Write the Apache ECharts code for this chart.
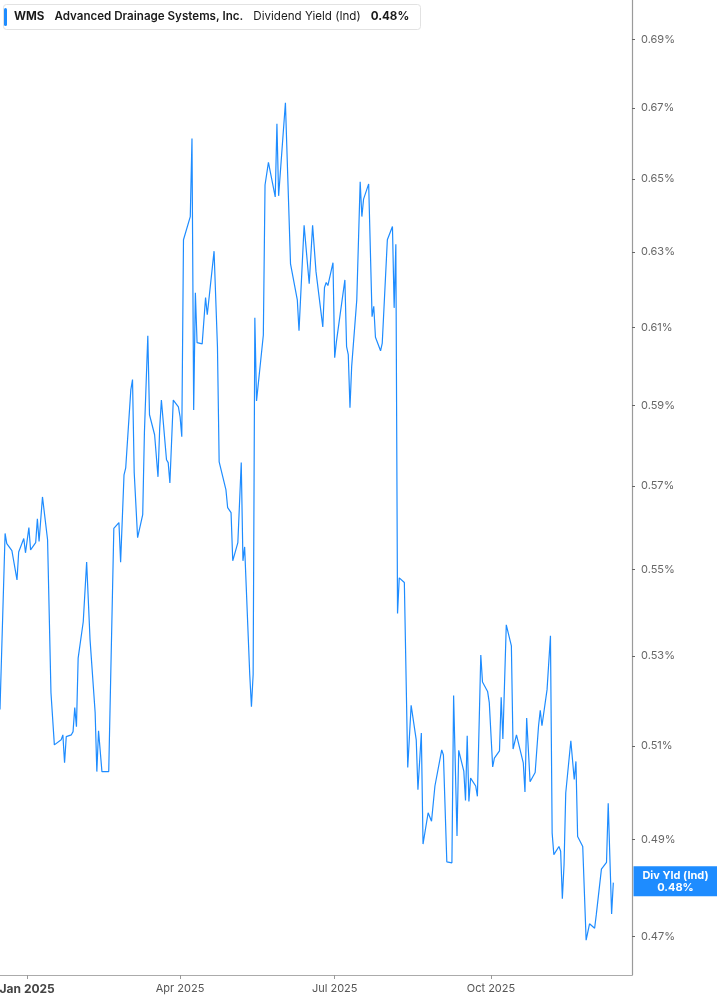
<!DOCTYPE html>
<html>
<head>
<meta charset="utf-8">
<title>WMS Dividend Yield</title>
<style>
  html, body { margin: 0; padding: 0; background: #fff; }
  #chart { width: 717px; height: 1005px; }
</style>
</head>
<body>
<div id="chart"></div>
<script src="https://cdn.jsdelivr.net/npm/echarts@6.0.0/dist/echarts.min.js"></script>
<script>
// trading dates
var dates = [
  '2024-12-16','2024-12-19','2024-12-20','2024-12-23','2024-12-26','2024-12-27','2024-12-30','2024-12-31','2025-01-02','2025-01-03',
  '2025-01-06','2025-01-07','2025-01-08','2025-01-10','2025-01-13','2025-01-15','2025-01-17','2025-01-21','2025-01-22','2025-01-23',
  '2025-01-24','2025-01-27','2025-01-28','2025-01-29','2025-01-30','2025-01-31','2025-02-03','2025-02-05','2025-02-07','2025-02-10',
  '2025-02-11','2025-02-12','2025-02-14','2025-02-18','2025-02-21','2025-02-24','2025-02-25','2025-02-27','2025-02-28','2025-03-03',
  '2025-03-04','2025-03-05','2025-03-07','2025-03-10','2025-03-11','2025-03-12','2025-03-13','2025-03-14','2025-03-17','2025-03-18',
  '2025-03-19','2025-03-20','2025-03-21','2025-03-24','2025-03-25','2025-03-26','2025-03-28','2025-03-31','2025-04-01','2025-04-02',
  '2025-04-03','2025-04-07','2025-04-08','2025-04-09','2025-04-10','2025-04-11','2025-04-14','2025-04-16','2025-04-17','2025-04-21',
  '2025-04-23','2025-04-24','2025-04-28','2025-04-29','2025-05-01','2025-05-02','2025-05-05','2025-05-07','2025-05-08','2025-05-09',
  '2025-05-12','2025-05-13','2025-05-14','2025-05-15','2025-05-16','2025-05-20','2025-05-21','2025-05-22','2025-05-23','2025-05-27',
  '2025-05-28','2025-05-29','2025-06-02','2025-06-05','2025-06-06','2025-06-09','2025-06-10','2025-06-13','2025-06-16','2025-06-18',
  '2025-06-20','2025-06-24','2025-06-25','2025-06-26','2025-06-27','2025-06-30','2025-07-01','2025-07-02','2025-07-03','2025-07-07',
  '2025-07-08','2025-07-09','2025-07-10','2025-07-11','2025-07-14','2025-07-16','2025-07-17','2025-07-18','2025-07-21','2025-07-23',
  '2025-07-24','2025-07-25','2025-07-28','2025-07-29','2025-08-01','2025-08-04','2025-08-05','2025-08-06','2025-08-07','2025-08-08',
  '2025-08-11','2025-08-13','2025-08-15','2025-08-18','2025-08-19','2025-08-21','2025-08-22','2025-08-25','2025-08-26','2025-08-27',
  '2025-08-29','2025-09-02','2025-09-03','2025-09-05','2025-09-08','2025-09-09','2025-09-11','2025-09-12','2025-09-15','2025-09-16',
  '2025-09-17','2025-09-18','2025-09-19','2025-09-22','2025-09-23','2025-09-25','2025-09-26','2025-09-29','2025-09-30','2025-10-02',
  '2025-10-03','2025-10-06','2025-10-07','2025-10-08','2025-10-10','2025-10-13','2025-10-14','2025-10-16','2025-10-20','2025-10-21',
  '2025-10-22','2025-10-24','2025-10-27','2025-10-29','2025-10-30','2025-10-31','2025-11-03','2025-11-05','2025-11-06','2025-11-07',
  '2025-11-10','2025-11-11','2025-11-12','2025-11-13','2025-11-14','2025-11-17','2025-11-19','2025-11-20','2025-11-21','2025-11-24',
  '2025-11-26','2025-11-28','2025-12-01','2025-12-02','2025-12-03','2025-12-05','2025-12-08','2025-12-09','2025-12-11','2025-12-12'
];

// dividend yield (Ind), in percent
var divYield = [
  0.5180,0.5585,0.5561,0.5544,0.5475,0.5541,0.5573,0.5539,0.5599,0.5546,
  0.5563,0.5620,0.5566,0.5673,0.5570,0.5217,0.5102,0.5113,0.5124,0.5063,
  0.5120,0.5124,0.5131,0.5184,0.5142,0.5295,0.5378,0.5517,0.5337,0.5173,
  0.5044,0.5133,0.5044,0.5044,0.5597,0.5611,0.5517,0.5727,0.5744,0.5939,
  0.5965,0.5732,0.5575,0.5630,0.5831,0.5834,0.6078,0.5876,0.5826,0.5826,
  0.5722,0.5843,0.5913,0.5764,0.5757,0.5707,0.5913,0.5896,0.5871,0.5821,
  0.6333,0.6396,0.6613,0.5888,0.6191,0.6060,0.6057,0.6178,0.6133,0.6302,
  0.6049,0.5759,0.5690,0.5647,0.5635,0.5520,0.5563,0.5757,0.5520,0.5553,
  0.5258,0.5186,0.5258,0.6125,0.5911,0.6080,0.6483,0.6486,0.6546,0.6450,
  0.6655,0.6453,0.6715,0.6268,0.6268,0.6172,0.6091,0.6372,0.6215,0.6372,
  0.6247,0.6101,0.6205,0.6218,0.6210,0.6271,0.6021,0.6062,0.6063,0.6225,
  0.6050,0.6029,0.5894,0.5999,0.6172,0.6492,0.6396,0.6444,0.6486,0.6128,
  0.6155,0.6074,0.6039,0.6059,0.6333,0.6369,0.6151,0.6321,0.5397,0.5480,
  0.5469,0.5053,0.5189,0.5113,0.5005,0.5128,0.4890,0.4956,0.4956,0.4938,
  0.5013,0.5091,0.5080,0.4853,0.4851,0.5211,0.4907,0.5090,0.5045,0.4982,
  0.5122,0.4980,0.5030,0.5013,0.4991,0.5302,0.5241,0.5220,0.5195,0.5054,
  0.5073,0.5089,0.5207,0.5115,0.5371,0.5323,0.5093,0.5124,0.5063,0.5000,
  0.5161,0.5022,0.5042,0.5144,0.5178,0.5144,0.5224,0.5346,0.4913,0.4868,
  0.4885,0.4875,0.4777,0.4847,0.4998,0.5111,0.5027,0.5066,0.4906,0.4885,
  0.4693,0.4726,0.4717,0.4745,0.4743,0.4838,0.4852,0.4976,0.4746,0.4810
];

var yTicks = [0.47, 0.49, 0.51, 0.53, 0.55, 0.57, 0.59, 0.61, 0.63, 0.65, 0.67, 0.69];
var xTicks = ['2025-01-01', '2025-04-01', '2025-07-01', '2025-10-01'];
var monthNames = ['Jan','Feb','Mar','Apr','May','Jun','Jul','Aug','Sep','Oct','Nov','Dec'];

var ticker = 'WMS';
var company = 'Advanced Drainage Systems, Inc.';
var metric = 'Dividend Yield (Ind)';

function toTime(s) {
    var p = s.split('-');
    return new Date(+p[0], +p[1] - 1, +p[2]).getTime();
}

// the yield axis is logarithmic: plot ln(value) on a value axis
var lineData = dates.map(function (d, i) {
    return [toTime(d), Math.log(divYield[i])];
});
var yTickLogs = yTicks.map(function (v) { return Math.log(v); });
var xTickTimes = xTicks.map(toTime);
var last = divYield[divYield.length - 1];
var font = 'Inter, "Noto Sans", sans-serif';
var blue = '#1e8cff';
var hdr = 11.6;

var myChart = echarts.init(document.getElementById('chart'));
myChart.setOption({
    animation: false,
    backgroundColor: '#fff',
    title: {
        left: 3,
        top: 4,
        padding: [4, 12, 4, 1],
        backgroundColor: '#fff',
        borderColor: '#e2e2e2',
        borderWidth: 1,
        borderRadius: 3,
        text: '{bar|}{t|' + ticker + '}{n|' + company + '}{d|' + metric + '}{v|' + last.toFixed(2) + '%}',
        textStyle: {
            fontFamily: font,
            fontSize: hdr,
            color: '#1a1a1a',
            rich: {
                bar: {width: 3, height: 18, backgroundColor: blue, borderRadius: 1.5},
                t: {fontFamily: font, fontSize: hdr, fontWeight: 'bold', color: '#1a1a1a', padding: [0, 0, 0, 7]},
                n: {fontFamily: font, fontSize: hdr, fontWeight: 600, color: '#1a1a1a', padding: [0, 0, 0, 10]},
                d: {fontFamily: font, fontSize: hdr, fontWeight: 'normal', color: '#1a1a1a', padding: [0, 0, 0, 10]},
                v: {fontFamily: font, fontSize: hdr, fontWeight: 'bold', color: '#1a1a1a', padding: [0, 0, 0, 10]}
            }
        }
    },
    grid: {left: 0, right: 85, top: 0, bottom: 30, containLabel: false, outerBoundsMode: 'none'},
    xAxis: {
        type: 'value',
        min: toTime('2024-12-16'),
        max: toTime('2025-12-23'),
        splitLine: {show: false},
        axisLine: {lineStyle: {color: '#ababab', width: 1.2}},
        axisTick: {show: true, customValues: xTickTimes, length: 4, lineStyle: {color: '#999'}},
        axisLabel: {
            customValues: xTickTimes,
            margin: 8,
            color: '#555',
            fontFamily: font,
            fontSize: 11,
            formatter: function (val) {
                var d = new Date(val);
                var s = monthNames[d.getMonth()] + ' ' + d.getFullYear();
                return d.getMonth() === 0 ? '{b|' + s + '}' : s;
            },
            rich: {
                b: {fontFamily: font, fontSize: 12, fontWeight: 'bold', color: '#444'}
            }
        }
    },
    yAxis: {
        type: 'value',
        position: 'right',
        min: Math.log(0.46236),
        max: Math.log(0.7017),
        splitLine: {show: false},
        axisLine: {show: true, lineStyle: {color: '#9a9a9a', width: 1.2}},
        axisTick: {show: true, customValues: yTickLogs, length: 3, lineStyle: {color: '#666'}},
        axisLabel: {
            customValues: yTickLogs,
            margin: 9,
            color: '#666',
            fontFamily: font,
            fontSize: 11,
            formatter: function (v) {
                return Math.exp(v).toFixed(2) + '%';
            }
        }
    },
    series: [{
        name: metric,
        type: 'line',
        data: lineData,
        showSymbol: false,
        lineStyle: {color: blue, width: 1.2},
        itemStyle: {color: blue},
        markLine: {
            silent: true,
            symbol: 'none',
            lineStyle: {color: 'rgba(0,0,0,0)', width: 0},
            label: {
                show: true,
                position: 'end',
                distance: 1,
                offset: [43, 3],
                formatter: 'Div Yld (Ind)\n' + last.toFixed(2) + '%',
                backgroundColor: blue,
                color: '#fff',
                fontFamily: font,
                fontSize: 11,
                fontWeight: 'bold',
                lineHeight: 12,
                align: 'center',
                width: 70,
                padding: [3, 8, 3, 7]
            },
            data: [{yAxis: Math.log(last)}]
        }
    }]
});
</script>
</body>
</html>
